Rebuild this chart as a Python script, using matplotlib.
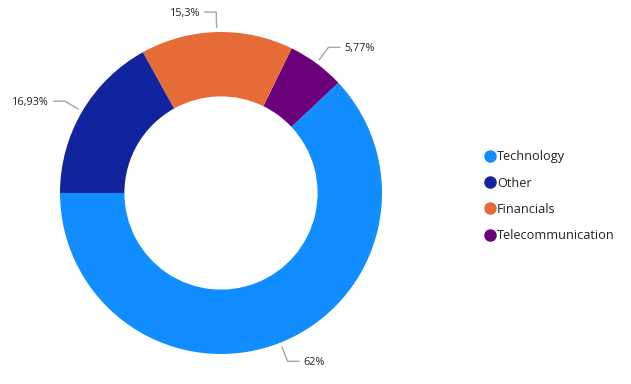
import numpy as np
import matplotlib.pyplot as plt
from matplotlib.lines import Line2D

# данные (порядок отрисовки против часовой стрелки от 9 часов)
sectors = ["Technology", "Telecommunication", "Financials", "Other"]
shares = [62, 5.77, 15.3, 16.93]
colors = ["#118DFF", "#6B007B", "#E66C37", "#12239E"]
legend_order = ["Technology", "Other", "Financials", "Telecommunication"]

W, H = 631, 384
plt.rcParams['font.family'] = ['Open Sans', 'DejaVu Sans']

fig = plt.figure(figsize=(W / 100, H / 100), dpi=100)
ax = fig.add_axes([0, 0, 1, 1])

cx, cy, R = 221, H - 193, 161
wedges, _ = ax.pie(shares, colors=colors, startangle=180, counterclock=True,
                   center=(cx, cy), radius=R, wedgeprops=dict(width=R * 0.40, linewidth=0),
                   frame=True)
ax.set_xlim(0, W)
ax.set_ylim(0, H)
ax.set_aspect('equal')
ax.axis('off')


def fmt(v):
    s = f"{v:.2f}".rstrip('0').rstrip('.')
    return s.replace('.', ',') + '%'


# подписи с выносками
for w, v in zip(wedges, shares):
    mid = np.deg2rad((w.theta1 + w.theta2) / 2)
    c, s = np.cos(mid), np.sin(mid)
    x0, y0 = cx + 165 * c, cy + 165 * s
    x1, y1 = cx + 181 * c, cy + 181 * s
    d = 1 if c >= 0 else -1
    x2 = x1 + 12 * d
    ax.plot([x0, x1, x2], [y0, y1, y1], color="#A6A6A6", lw=1, solid_capstyle='butt')
    ax.text(x2 + 4 * d, y1 - 1.5, fmt(v), ha='left' if d > 0 else 'right', va='center',
            fontsize=7.8, color="#252423")

handles = [Line2D([], [], marker='o', ls='', markersize=8,
                  color=colors[sectors.index(n)]) for n in legend_order]
ax.legend(handles, legend_order, loc='upper left', bbox_to_anchor=(480 / W, 1 - 145 / H),
          frameon=False, fontsize=9.2, handlelength=0.7, handletextpad=0.25,
          labelspacing=1.05, borderaxespad=0, labelcolor="#252423")

fig.savefig("out.png", dpi=100)
